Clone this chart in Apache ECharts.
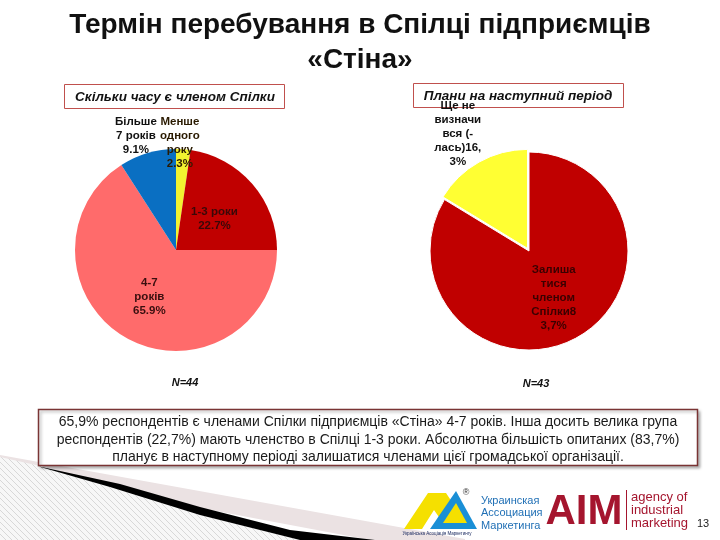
<!DOCTYPE html>
<html><head><meta charset="utf-8">
<script src="https://cdn.jsdelivr.net/npm/echarts@6/dist/echarts.min.js"></script>
<style>html,body{margin:0;padding:0;background:#fff}#c{width:720px;height:540px}</style>
</head><body><div id="c"></div>
<script>
// Data
const leftNames = ['Менше\nодного\nроку', '1-3 роки', '4-7\nроків', 'Більше\n7 років'];
const leftValues = [2.3, 22.7, 65.9, 9.1];
const leftLabels = ['2.3%', '22.7%', '65.9%', '9.1%'];
const rightNames = ['Залиша\nтися\nчленом\nСпілки8', 'Ще не\nвизначи\nвся (-\nлась)16,'];
const rightValues = [83.7, 16.3];
const rightLabels = ['3,7%', '3%'];

const leftColors = ['#f2f230', '#c00000', '#ff6b6b', '#0a6fc2'];
const rightColors = ['#c00000', '#ffff33'];
const leftTextColors = ['#2a1a00', '#3a0808', '#3a0f0f', '#111'];
const rightTextColors = ['#3a0000', '#111'];
const leftShift = [[0, -54], [-2, 4], [-1, 0], [-25, -63]];
const rightShift = [[-1, 1], [-44, -69]];

const font = "'Liberation Sans', Arial, sans-serif";
const chart = echarts.init(document.getElementById('c'));

function mk(names, vals, labs, cols, tcols) {
  return names.map((n, i) => ({
    name: n, value: vals[i],
    itemStyle: { color: cols[i] },
    label: { color: tcols[i], formatter: n + '\n' + labs[i] }
  }));
}
const rd = mk(rightNames, rightValues, rightLabels, rightColors, rightTextColors);
rd[1].selected = true;

// hatch pattern for decoration
const pc = document.createElement('canvas');
pc.width = 6; pc.height = 6;
const g = pc.getContext('2d');
g.fillStyle = '#f7f7f7'; g.fillRect(0, 0, 6, 6);
g.strokeStyle = '#d8d8d8'; g.lineWidth = 1;
g.beginPath(); g.moveTo(0, 0); g.lineTo(6, 6); g.moveTo(-3, 3); g.lineTo(3, 9); g.moveTo(3, -3); g.lineTo(9, 3); g.stroke();

chart.setOption({
  animation: false,
  title: {
    text: 'Термін перебування в Спілці підприємців\n«Стіна»',
    left: 'center', top: 3,
    textStyle: { fontFamily: font, fontSize: 28, fontWeight: 'bold', color: '#111', lineHeight: 35 }
  },
  series: [
    {
      type: 'pie', center: [176, 250], radius: 101, startAngle: 90, clockwise: true,
      data: mk(leftNames, leftValues, leftLabels, leftColors, leftTextColors),
      label: { position: 'inside', fontFamily: font, fontSize: 11.5, fontWeight: 'bold', lineHeight: 14, align: 'center' },
      labelLine: { show: false },
      labelLayout: p => ({ dx: leftShift[p.dataIndex][0], dy: leftShift[p.dataIndex][1] }),
      emphasis: { disabled: true }
    },
    {
      type: 'pie', center: [529, 251], radius: 99, startAngle: 90, clockwise: true,
      selectedMode: 'single', selectedOffset: 3,
      data: rd,
      itemStyle: { borderColor: '#fff', borderWidth: 1 },
      label: { position: 'inside', fontFamily: font, fontSize: 11.5, fontWeight: 'bold', lineHeight: 14, align: 'center' },
      labelLine: { show: false },
      labelLayout: p => ({ dx: rightShift[p.dataIndex][0], dy: rightShift[p.dataIndex][1] }),
      emphasis: { disabled: true }
    }
  ],
  graphic: [
    // decorative swoosh bottom-left
    { type: 'polygon', z: -10, shape: { points: [[0, 456], [40, 466], [110, 487], [200, 515], [300, 540], [0, 540]] }, style: { fill: { image: pc, repeat: 'repeat' } } },
    { type: 'polygon', z: -9, shape: { points: [[0, 455], [465, 539], [465, 540], [370, 540], [200, 508], [40, 466], [0, 457]] }, style: { fill: '#ebe2e3' } },
    { type: 'polygon', z: -8, shape: { points: [[37, 466], [120, 484], [200, 507], [290, 530], [375, 540], [300, 540], [200, 515], [110, 487]] }, style: { fill: '#000' } },

    { type: 'rect', shape: { x: 64.5, y: 84.5, width: 220, height: 24 }, style: { fill: '#fff', stroke: '#c0504d', lineWidth: 1 } },
    { type: 'text', x: 175, y: 97, style: { text: 'Скільки часу є членом Спілки', font: 'italic bold 13.5px ' + font, fill: '#111', align: 'center', verticalAlign: 'middle' } },
    { type: 'rect', shape: { x: 413.5, y: 83.5, width: 210, height: 24 }, style: { fill: '#fff', stroke: '#c0504d', lineWidth: 1 } },
    { type: 'text', x: 518, y: 96, style: { text: 'Плани на наступний період', font: 'italic bold 13.5px ' + font, fill: '#111', align: 'center', verticalAlign: 'middle' } },
    { type: 'text', x: 185, y: 383, style: { text: 'N=44', font: 'italic bold 11px ' + font, fill: '#111', align: 'center', verticalAlign: 'middle' } },
    { type: 'text', x: 536, y: 384, style: { text: 'N=43', font: 'italic bold 11px ' + font, fill: '#111', align: 'center', verticalAlign: 'middle' } },
    { type: 'rect', shape: { x: 38.5, y: 409.5, width: 659, height: 56 }, style: { fill: '#fff', stroke: '#7a3434', lineWidth: 1.5, shadowColor: 'rgba(0,0,0,0.3)', shadowBlur: 3, shadowOffsetX: 2, shadowOffsetY: 2 } },
    { type: 'text', x: 368, y: 440, style: {
      text: '65,9% респондентів є членами Спілки підприємців «Стіна» 4-7 років. Інша досить велика група\nреспондентів (22,7%) мають членство в Спілці 1-3 роки. Абсолютна більшість опитаних (83,7%)\nпланує в наступному періоді залишатися членами цієї громадської організації.',
      font: '14px ' + font, fill: '#1a1a1a', align: 'center', verticalAlign: 'middle', lineHeight: 17.5 } },
    // logo shapes
    { type: 'polygon', shape: { points: [[404, 529], [428, 493], [446, 493], [452, 502], [441, 520], [434, 510], [422, 529]] }, style: { fill: '#f5e000' } },
    { type: 'polygon', shape: { points: [[430, 529], [456, 491], [477, 529]] }, style: { fill: '#1a8fd6' } },
    { type: 'polygon', shape: { points: [[443, 523], [456, 503], [467, 523]] }, style: { fill: '#f5e000' } },
    { type: 'text', x: 466, y: 493, style: { text: '®', font: '9px ' + font, fill: '#333', align: 'center', verticalAlign: 'middle' } },
    { type: 'text', x: 437, y: 534, style: { text: 'Українська Асоціація Маркетингу', font: '4.5px ' + font, fill: '#1a2a60', align: 'center', verticalAlign: 'middle' } },
    { type: 'text', x: 481, y: 513, style: { text: 'Украинская\nАссоциация\nМаркетинга', font: '11px ' + font, fill: '#1f6fb5', align: 'left', verticalAlign: 'middle', lineHeight: 12.5 } },
    { type: 'text', x: 584, y: 512, style: { text: 'AIM', font: 'bold 42px ' + font, fill: '#a5152e', align: 'center', verticalAlign: 'middle' } },
    { type: 'rect', shape: { x: 626, y: 490, width: 1, height: 40 }, style: { fill: '#a5152e' } },
    { type: 'text', x: 631, y: 510, style: { text: 'agency of\nindustrial\nmarketing', font: '13px ' + font, fill: '#a5152e', align: 'left', verticalAlign: 'middle', lineHeight: 13 } },
    { type: 'text', x: 703, y: 524, style: { text: '13', font: '11px ' + font, fill: '#222', align: 'center', verticalAlign: 'middle' } }
  ]
});
</script></body></html>
